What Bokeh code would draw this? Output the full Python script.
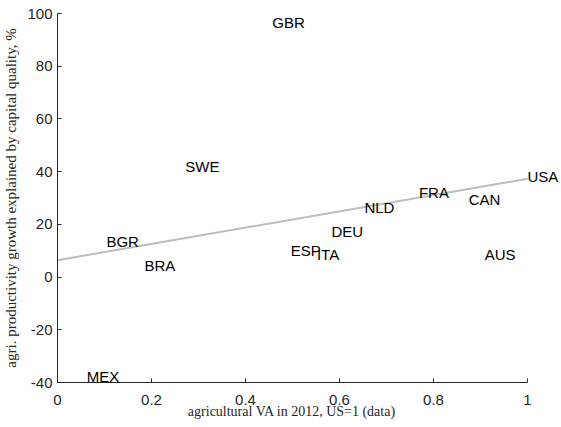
from bokeh.plotting import figure
from bokeh.models import ColumnDataSource, FixedTicker, Range1d
from bokeh.core.properties import value
from bokeh.embed import file_html
from bokeh.resources import INLINE

countries = ["MEX", "BGR", "BRA", "SWE", "GBR", "ESP", "ITA", "DEU", "NLD", "FRA", "CAN", "USA", "AUS"]
va_2012 = [0.062, 0.104, 0.185, 0.272, 0.457, 0.496, 0.552, 0.583, 0.653, 0.769, 0.875, 1.0, 0.909]
cap_quality = [-37.7, 13.5, 4.4, 42.0, 96.5, 10.1, 8.5, 17.4, 26.5, 32.2, 29.4, 38.3, 8.6]

fit_x = [0.0, 1.0]
fit_y = [6.4, 37.3]

x_ticks = [0, 0.2, 0.4, 0.6, 0.8, 1]
x_tick_labels = ["0", "0.2", "0.4", "0.6", "0.8", "1"]
y_ticks = [-40, -20, 0, 20, 40, 60, 80, 100]
y_tick_labels = ["-40", "-20", "0", "20", "40", "60", "80", "100"]

X_END = 1.0723  # room right of x=1 so the USA label is not clipped

p = figure(width=561, height=427, output_backend="svg", toolbar_location=None,
           x_range=Range1d(0, X_END), y_range=Range1d(-40, 100),
           min_border_left=57, min_border_right=0, min_border_top=13, min_border_bottom=45)
p.outline_line_color = None
p.xgrid.visible = False
p.ygrid.visible = False
p.background_fill_color = "white"
p.border_fill_color = "white"

p.line(fit_x, fit_y, line_color="#bdbdbd", line_width=2)

src = ColumnDataSource(dict(x=va_2012, y=cap_quality, t=countries))
p.text(x="x", y="y", text="t", source=src, text_align="left", text_baseline="middle",
       text_font=value("Liberation Sans"), text_font_size="15px", text_color="black")

for ax, ticks, labels in ((p.xaxis[0], x_ticks, x_tick_labels), (p.yaxis[0], y_ticks, y_tick_labels)):
    ax.ticker = FixedTicker(ticks=ticks)
    ax.major_label_overrides = {t: l for t, l in zip(ticks, labels)}
    ax.minor_tick_line_color = None
    ax.major_tick_in = 4
    ax.major_tick_out = 0
    ax.axis_line_color = "#262626"
    ax.major_tick_line_color = "#262626"
    ax.major_label_text_font = "Liberation Sans"
    ax.major_label_text_font_size = "15px"
    ax.major_label_text_color = "#262626"
    ax.axis_label_text_font = "Liberation Serif"
    ax.axis_label_text_font_style = "normal"
    ax.axis_label_text_color = "#262626"

p.xaxis.bounds = (0, 1)
# trailing no-break spaces keep the label centred under the 0..1 axis, not the wider frame
p.xaxis.axis_label = "agricultural VA in 2012, US=1 (data)" + "\u00a0" * 10
p.yaxis.axis_label = "agri. productivity growth explained by capital quality, %"
p.xaxis.axis_label_text_font_size = "14px"
p.yaxis.axis_label_text_font_size = "15px"
p.xaxis.major_label_standoff = 12
p.xaxis.axis_label_standoff = -4
p.yaxis.major_label_standoff = 5
p.yaxis.axis_label_standoff = 5

open("out.html", "w").write(file_html(p, INLINE))
